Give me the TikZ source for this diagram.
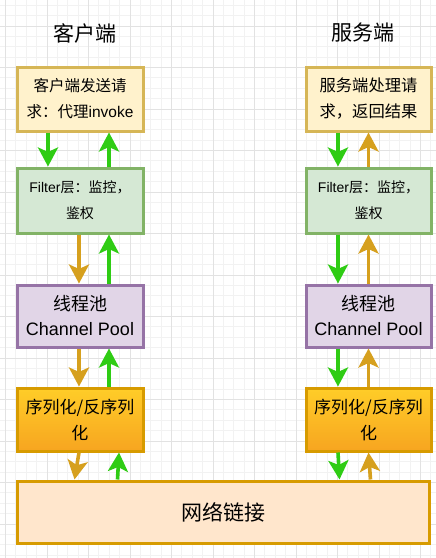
\documentclass[tikz,border=0pt]{standalone}
\usepackage{fontspec}
\setmainfont{Liberation Sans}
\newfontfamily\cjk{Noto Sans CJK SC}
\usetikzlibrary{arrows.meta}
\definecolor{topfill}{HTML}{FFF2CC}
\definecolor{topdraw}{HTML}{D6B656}
\definecolor{filfill}{HTML}{D5E8D4}
\definecolor{fildraw}{HTML}{82B366}
\definecolor{poolfill}{HTML}{E1D5E7}
\definecolor{pooldraw}{HTML}{9673A6}
\definecolor{sertop}{HTML}{FFCD28}
\definecolor{serbot}{HTML}{F7A520}
\definecolor{serdraw}{HTML}{D79B00}
\definecolor{netfill}{HTML}{FFE6CC}
\definecolor{netdraw}{HTML}{D79B00}
\definecolor{ggreen}{HTML}{2FCC14}
\definecolor{oarr}{HTML}{D6A01E}
\definecolor{gminor}{HTML}{F2F2F2}
\definecolor{gmajor}{HTML}{E2E2E2}
\begin{document}
\begin{tikzpicture}[x=1pt,y=-1pt,
  box/.style={line width=3pt, inner sep=0pt, align=center, minimum width=126pt},
  topbox/.style={box, draw=topdraw, fill=topfill, minimum height=64pt, font=\cjk\fontsize{15.5}{26}\selectfont},
  filbox/.style={box, draw=fildraw, fill=filfill, minimum height=65pt, font=\fontsize{14}{26}\selectfont},
  poolbox/.style={box, draw=pooldraw, fill=poolfill, minimum height=62pt, font=\fontsize{18}{25}\selectfont},
  serbox/.style={box, draw=serdraw, top color=sertop, bottom color=serbot, minimum height=63pt, font=\cjk\fontsize{17}{26}\selectfont},
  netbox/.style={box, draw=netdraw, fill=netfill, minimum width=412pt, minimum height=62pt, font=\cjk\fontsize{21}{24}\selectfont},
  titlenode/.style={font=\cjk\fontsize{21}{24}\selectfont, inner sep=0pt},
  garrow/.style={draw=ggreen, line width=3.6pt, -{Stealth[length=19pt,width=20pt,inset=4.5pt]}},
  oarrow/.style={draw=oarr, line width=3.6pt, -{Stealth[length=19pt,width=20pt,inset=4.5pt]}},
]
\useasboundingbox (0,0) rectangle (436,558);
\fill[white] (0,0) rectangle (436,558);
% grid
\foreach \i in {0,...,42} {
  \draw[gminor, line width=0.8pt] ({5.5+10.375*\i},0) -- ({5.5+10.375*\i},558);
}
\foreach \i in {0,...,54} {
  \draw[gminor, line width=0.8pt] (0,{5.25+10.375*\i}) -- (436,{5.25+10.375*\i});
}
\foreach \i in {0,...,10} {
  \draw[gmajor, line width=0.9pt] ({5.5+41.5*\i},0) -- ({5.5+41.5*\i},558);
}
\foreach \i in {0,...,13} {
  \draw[gmajor, line width=0.9pt] (0,{26+41.5*\i}) -- (436,{26+41.5*\i});
}
% titles
\node[titlenode] (t1) at (85,33) {客户端};
\node[titlenode] (t2) at (363,33) {服务端};
% client column
\node[topbox] (c1) at (80,99) {客户端发送请\\求：代理{\rmfamily invoke}};
\node[filbox] (c2) at (80,200.5) {Filter{\cjk 层：监控，}\\{\cjk 鉴权}};
\node[poolbox] (c3) at (80,316) {{\cjk 线程池}\\Channel Pool};
\node[serbox] (c4) at (80,419.5) {序列化/反序列\\化};
% server column
\node[topbox, minimum width=125pt, font=\cjk\fontsize{16.3}{26}\selectfont] (s1) at (368.5,99) {服务端处理请\\求，返回结果};
\node[filbox, minimum width=125pt] (s2) at (368.5,200.5) {Filter{\cjk 层：监控，}\\{\cjk 鉴权}};
\node[poolbox, minimum width=125pt] (s3) at (368.5,316) {{\cjk 线程池}\\Channel Pool};
\node[serbox, minimum width=125pt] (s4) at (368.5,419.5) {序列化/反序列\\化};
% network
\node[netbox] (n) at (223,512) {网络链接};
% client arrows
\draw[garrow] ([xshift=-32pt]c1.south) -- ([xshift=-32pt]c2.north);
\draw[garrow] ([xshift=29pt]c2.north) -- ([xshift=29pt]c1.south);
\draw[oarrow] ([xshift=-1pt]c2.south) -- ([xshift=-1pt]c3.north);
\draw[garrow] ([xshift=29pt]c3.north) -- ([xshift=29pt]c2.south);
\draw[oarrow] ([xshift=-1pt]c3.south) -- ([xshift=-1pt]c4.north);
\draw[garrow] ([xshift=29pt]c4.north) -- ([xshift=29pt]c3.south);
\draw[oarrow] ([xshift=-1pt]c4.south) -- ([xshift=59pt]n.north west);
\draw[garrow] ([xshift=102pt]n.north west) -- ([xshift=39pt]c4.south);
% server arrows
\draw[garrow] ([xshift=-30.5pt]s1.south) -- ([xshift=-30.5pt]s2.north);
\draw[oarrow] ([xshift=0pt]s2.north) -- ([xshift=0pt]s1.south);
\draw[garrow] ([xshift=-30.5pt]s2.south) -- ([xshift=-30.5pt]s3.north);
\draw[oarrow] ([xshift=0pt]s3.north) -- ([xshift=0pt]s2.south);
\draw[garrow] ([xshift=-30.5pt]s3.south) -- ([xshift=-30.5pt]s4.north);
\draw[oarrow] ([xshift=0pt]s4.north) -- ([xshift=0pt]s3.south);
\draw[garrow] ([xshift=-30.5pt]s4.south) -- ([xshift=-91pt]n.north east);
\draw[oarrow] ([xshift=-60pt]n.north east) -- ([xshift=0pt]s4.south);
\end{tikzpicture}
\end{document}
